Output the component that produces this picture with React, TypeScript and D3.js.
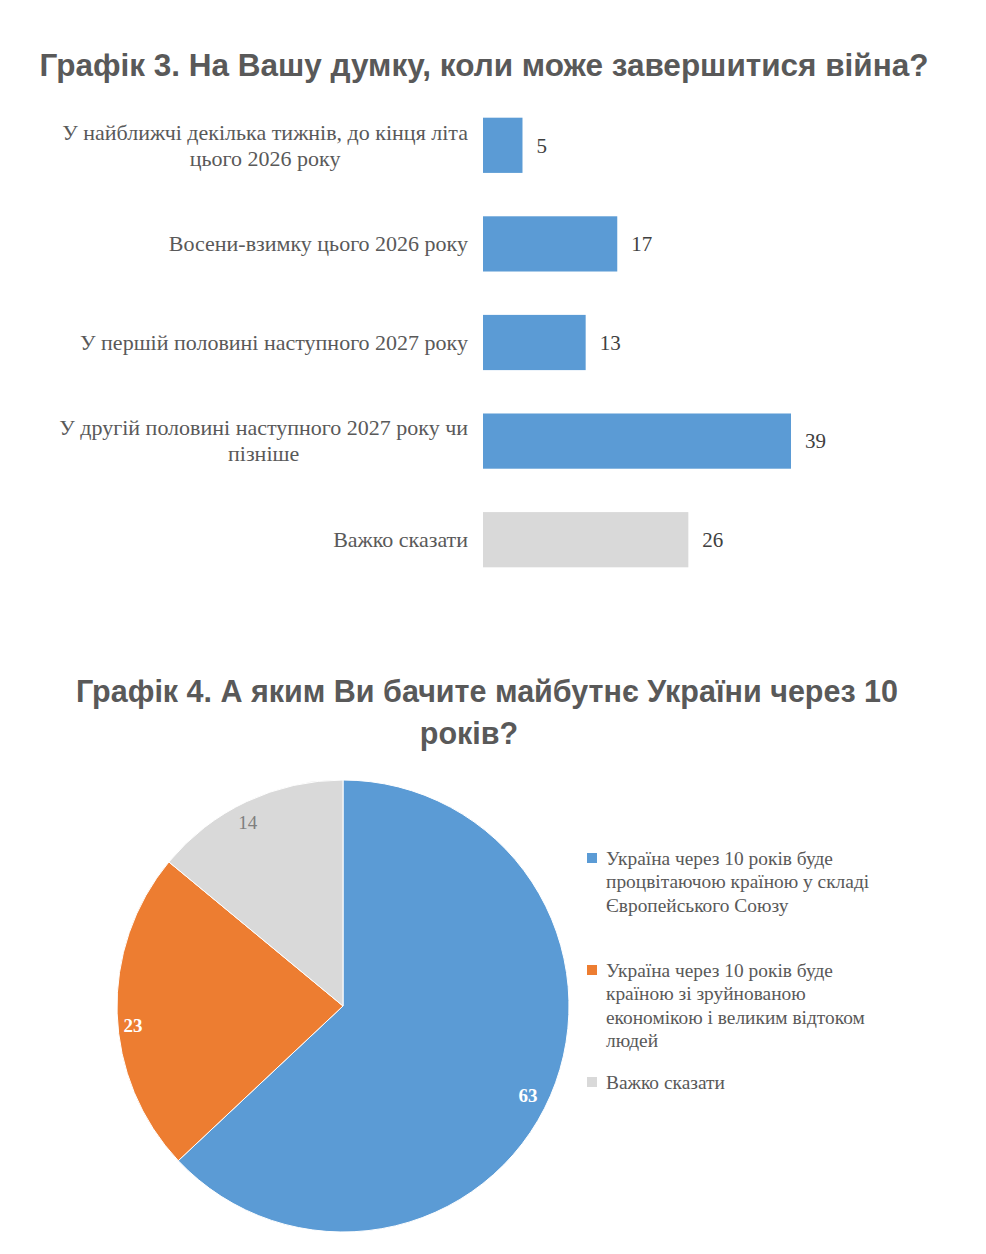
import React, { useEffect, useRef } from "react";
import * as d3 from "d3";

const barCategories: string[][] = [
  ["У найближчі декілька тижнів, до кінця літа", "цього 2026 року"],
  ["Восени-взимку цього 2026 року"],
  ["У першій половині наступного 2027 року"],
  ["У другій половині наступного 2027 року чи", "пізніше"],
  ["Важко сказати"],
];
const barValues = [5, 17, 13, 39, 26];
const barColors = ["#5B9BD5", "#5B9BD5", "#5B9BD5", "#5B9BD5", "#D9D9D9"];

const pieLabels: string[][] = [
  ["Україна через 10 років буде", "процвітаючою країною у складі", "Європейського Союзу"],
  ["Україна через 10 років буде", "країною зі зруйнованою", "економікою і великим відтоком", "людей"],
  ["Важко сказати"],
];
const pieValues = [63, 23, 14];
const pieColors = ["#5B9BD5", "#ED7D31", "#D9D9D9"];
const pieLabelColors = ["#FFFFFF", "#FFFFFF", "#7F7F7F"];
const pieLabelWeights = ["bold", "bold", "normal"];

const title1 = "Графік 3. На Вашу думку, коли може завершитися війна?";
const title2 = ["Графік 4. А яким Ви бачите майбутнє України через 10", "років?"];

const W = 986;
const H = 1254;
const SERIF = "'Liberation Serif', 'Times New Roman', serif";
const SANS = "'Liberation Sans', Arial, sans-serif";
const TEXT = "#595959";
// small layout nudges (px) for pie data labels, to mimic Excel "best fit"
const pieLabelNudge: [number, number][] = [
  [-5, 7],
  [-3, 13],
  [-7, 4],
];

export default function App() {
  const ref = useRef<SVGSVGElement | null>(null);

  useEffect(() => {
    const svg = d3.select(ref.current);
    svg.selectAll("*").remove();
    svg.append("rect").attr("width", W).attr("height", H).attr("fill", "#fff");

    // Title 1
    svg
      .append("text")
      .attr("x", 484)
      .attr("y", 76)
      .attr("text-anchor", "middle")
      .attr("font-family", SANS)
      .attr("font-weight", "bold")
      .attr("font-size", 31.5)
      .attr("fill", TEXT)
      .text(title1);

    // Bar chart
    const x = d3.scaleLinear().domain([0, 39]).range([483, 791]);
    const y = d3
      .scaleBand<number>()
      .domain(d3.range(barValues.length))
      .range([96, 589])
      .paddingInner(0.44)
      .paddingOuter(0.22);

    const g = svg.append("g");
    g.selectAll("rect.bar")
      .data(barValues)
      .join("rect")
      .attr("class", "bar")
      .attr("x", x(0))
      .attr("y", (_, i) => y(i)!)
      .attr("width", (d) => x(d) - x(0))
      .attr("height", y.bandwidth())
      .attr("fill", (_, i) => barColors[i]);

    g.selectAll("text.val")
      .data(barValues)
      .join("text")
      .attr("class", "val")
      .attr("x", (d) => x(d) + 14)
      .attr("y", (_, i) => y(i)! + y.bandwidth() / 2)
      .attr("dy", "0.35em")
      .attr("font-family", SERIF)
      .attr("font-size", 21)
      .attr("fill", "#404040")
      .text((d) => d);

    barCategories.forEach((lines, i) => {
      const cy = y(i)! + y.bandwidth() / 2;
      const lh = 26;
      const t = g
        .append("text")
        .attr("font-family", SERIF)
        .attr("font-size", 22)
        .attr("fill", TEXT)
        .attr("text-anchor", "middle");
      const spans = lines.map((ln, j) =>
        t
          .append("tspan")
          .attr("y", cy + (j - (lines.length - 1) / 2) * lh)
          .attr("dy", "0.33em")
          .text(ln)
      );
      let maxW = 0;
      spans.forEach((s) => {
        const n = s.node() as SVGTextContentElement;
        maxW = Math.max(maxW, n.getComputedTextLength());
      });
      spans.forEach((s) => s.attr("x", 468 - maxW / 2));
    });

    // Title 2
    title2.forEach((ln, j) => {
      svg
        .append("text")
        .attr("x", j === 0 ? 487 : 469)
        .attr("y", 702 + j * 42)
        .attr("text-anchor", "middle")
        .attr("font-family", SANS)
        .attr("font-weight", "bold")
        .attr("font-size", 30.5)
        .attr("fill", TEXT)
        .text(ln);
    });

    // Pie
    const cx = 343;
    const cyp = 1006;
    const r = 226;
    const pie = d3.pie<number>().sort(null).value((d) => d);
    const arcs = pie(pieValues);
    const arc = d3.arc<d3.PieArcDatum<number>>().innerRadius(0).outerRadius(r);
    const labelArc = d3.arc<d3.PieArcDatum<number>>().innerRadius(207).outerRadius(207);
    const pg = svg.append("g").attr("transform", `translate(${cx},${cyp})`);
    pg.selectAll("path")
      .data(arcs)
      .join("path")
      .attr("d", arc)
      .attr("fill", (_, i) => pieColors[i])
      .attr("stroke", "#fff")
      .attr("stroke-width", 1);
    pg.selectAll("text")
      .data(arcs)
      .join("text")
      .attr("transform", (d, i) => {
        const [px, py] = labelArc.centroid(d);
        return `translate(${px + pieLabelNudge[i][0]},${py + pieLabelNudge[i][1]})`;
      })
      .attr("text-anchor", "middle")
      .attr("dy", "0.35em")
      .attr("font-family", SERIF)
      .attr("font-size", 19)
      .attr("font-weight", (_, i) => pieLabelWeights[i])
      .attr("fill", (_, i) => pieLabelColors[i])
      .text((d) => d.data);

    // Legend
    const legendTops = [858, 970, 1082];
    const lg = svg.append("g");
    pieLabels.forEach((lines, i) => {
      lg.append("rect")
        .attr("x", 587)
        .attr("y", legendTops[i] - 5)
        .attr("width", 10)
        .attr("height", 10)
        .attr("fill", pieColors[i]);
      lines.forEach((ln, j) => {
        lg.append("text")
          .attr("x", 606)
          .attr("y", legendTops[i] + j * 23.5)
          .attr("dy", "0.35em")
          .attr("font-family", SERIF)
          .attr("font-size", 19.4)
          .attr("fill", TEXT)
          .text(ln);
      });
    });
  }, []);

  return (
    <svg
      ref={ref}
      width={W}
      height={H}
      style={{ position: "absolute", left: 0, top: 0, display: "block" }}
    />
  );
}
